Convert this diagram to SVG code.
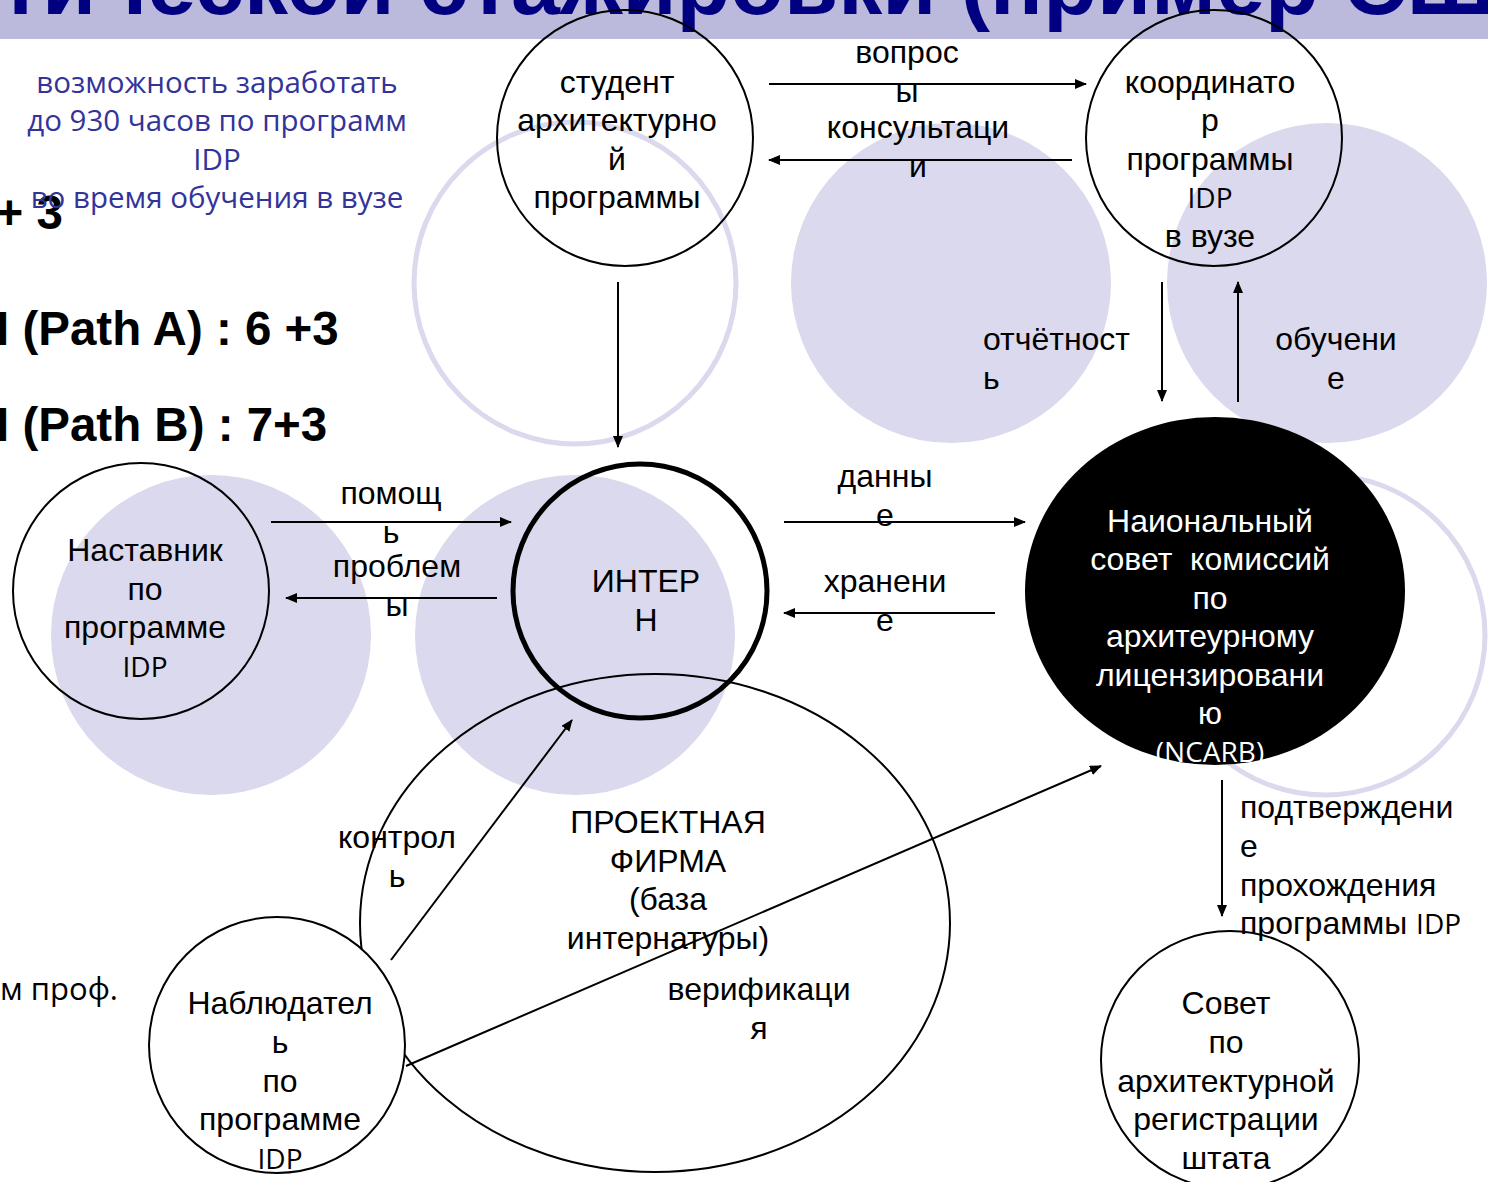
<svg xmlns="http://www.w3.org/2000/svg" width="1488" height="1182" viewBox="0 0 1488 1182">
<defs>
<marker id="ah" markerUnits="userSpaceOnUse" markerWidth="12" markerHeight="10" refX="11" refY="5" orient="auto">
<path d="M0,0 L12,5 L0,10 z" fill="#000"/>
</marker>
<style>
.bg{fill:#DAD9ED;stroke:none}
.ring{fill:none;stroke:#DAD9ED;stroke-width:5}
.node{fill:none;stroke:#000;stroke-width:2}
.t{font-family:"Liberation Sans",Arial,sans-serif;font-size:32px;fill:#000;text-anchor:middle}
.ts{font-family:"Liberation Sans",Arial,sans-serif;font-size:32px;fill:#000}
.c{font-family:"Open Sans","Noto Sans",sans-serif;font-size:28px}
.w{fill:#fff}
.blue{font-family:"Open Sans","Noto Sans",sans-serif;font-size:29.5px;fill:#333399;text-anchor:middle}
.big{font-family:"Liberation Sans",Arial,sans-serif;font-size:47.5px;font-weight:bold;fill:#000}
.conn line{stroke:#000;stroke-width:2;marker-end:url(#ah)}
</style>
</defs>
<rect width="1488" height="1182" fill="#fff"/>
<rect x="0" y="0" width="1488" height="39" fill="#BBBADC"/>
<text x="-201" y="14" font-family="Liberation Sans,Arial,sans-serif" font-size="88" font-weight="bold" fill="#000080">практической стажировки (пример США)</text>

<g id="decor">
<circle class="bg" cx="211" cy="635" r="160"/>
<circle class="bg" cx="575" cy="635" r="160"/>
<circle class="bg" cx="951" cy="283" r="160"/>
<circle class="bg" cx="1327" cy="283" r="160"/>
<circle class="ring" cx="575" cy="283" r="161"/>
<circle class="ring" cx="1325" cy="635" r="160"/>
</g>

<g id="left-text">
<text class="blue" x="217" y="93">возможность заработать</text>
<text class="blue" x="217" y="131">до 930 часов по программ</text>
<text class="blue" x="217" y="170">IDP</text>
<text class="big" x="-4.5" y="229">+ 3</text>
<text class="blue" x="217" y="208">во время обучения в вузе</text>
<text class="big" x="-4" y="345">I (Path A) : 6 +3</text>
<text class="big" x="-4" y="441">I (Path B) : 7+3</text>
<text x="0" y="1000" font-family="Open Sans,Noto Sans,sans-serif" font-size="31" fill="#000">м проф.</text>
</g>

<g id="node-student">
<circle class="node" cx="625" cy="138" r="128"/>
<text class="t" x="617" y="93">студент</text>
<text class="t" x="617" y="131">архитектурно</text>
<text class="t" x="617" y="170">й</text>
<text class="t" x="617" y="208">программы</text>
</g>

<g id="node-coordinator">
<circle class="node" cx="1214" cy="138" r="128"/>
<text class="t" x="1210" y="93">координато</text>
<text class="t" x="1210" y="131">р</text>
<text class="t" x="1210" y="170">программы</text>
<text class="t c" x="1210" y="208">IDP</text>
<text class="t" x="1210" y="247">в вузе</text>
</g>

<g id="node-mentor">
<circle class="node" cx="141" cy="591" r="128"/>
<text class="t" x="145" y="561">Наставник</text>
<text class="t" x="145" y="600">по</text>
<text class="t" x="145" y="638">программе</text>
<text class="t c" x="145" y="677">IDP</text>
</g>

<g id="node-intern">
<circle cx="640" cy="591" r="127" fill="none" stroke="#000" stroke-width="5"/>
<text class="t" x="646" y="592">ИНТЕР</text>
<text class="t" x="646" y="631">Н</text>
</g>

<g id="node-ncarb">
<ellipse cx="1215" cy="591" rx="190" ry="174" fill="#000"/>
<text class="t w" x="1210" y="532">Наиональный</text>
<text class="t w" x="1210" y="570" xml:space="preserve">совет  комиссий</text>
<text class="t w" x="1210" y="609">по</text>
<text class="t w" x="1210" y="647">архитеурному</text>
<text class="t w" x="1210" y="686">лицензировани</text>
<text class="t w" x="1210" y="724">ю</text>
<text class="t c w" x="1210" y="762">(NCARB)</text>
</g>

<g id="node-firm">
<ellipse class="node" cx="655" cy="923" rx="295" ry="249"/>
<text class="t" x="668" y="833">ПРОЕКТНАЯ</text>
<text class="t" x="668" y="872">ФИРМА</text>
<text class="t" x="668" y="910">(база</text>
<text class="t" x="668" y="949">интернатуры)</text>
</g>

<g id="node-observer">
<circle cx="277" cy="1045" r="128" fill="#fff" stroke="#000" stroke-width="2"/>
<text class="t" x="280" y="1014">Наблюдател</text>
<text class="t" x="280" y="1053">ь</text>
<text class="t" x="280" y="1092">по</text>
<text class="t" x="280" y="1130">программе</text>
<text class="t c" x="280" y="1169">IDP</text>
</g>

<g id="node-board">
<circle class="node" cx="1230" cy="1060" r="129"/>
<text class="t" x="1226" y="1014">Совет</text>
<text class="t" x="1226" y="1053">по</text>
<text class="t" x="1226" y="1092">архитектурной</text>
<text class="t" x="1226" y="1130">регистрации</text>
<text class="t" x="1226" y="1169">штата</text>
</g>

<g id="connectors" class="conn">
<line x1="769" y1="84" x2="1086" y2="84"/>
<line x1="1072" y1="160" x2="769" y2="160"/>
<line x1="618" y1="282" x2="618" y2="447"/>
<line x1="1162" y1="282" x2="1162" y2="401"/>
<line x1="1238" y1="402" x2="1238" y2="282"/>
<line x1="271" y1="522" x2="511" y2="522"/>
<line x1="497" y1="598" x2="286" y2="598"/>
<line x1="784" y1="522" x2="1025" y2="522"/>
<line x1="995" y1="613" x2="784" y2="613"/>
<line x1="391" y1="960" x2="572" y2="720"/>
<line x1="406" y1="1066" x2="1101" y2="766"/>
<line x1="1222" y1="780" x2="1222" y2="916"/>
</g>

<g id="labels">
<text class="t" x="907" y="63">вопрос</text>
<text class="t" x="907" y="102">ы</text>
<text class="t" x="918" y="138">консультаци</text>
<text class="t" x="918" y="177">и</text>
<text class="ts" x="983" y="350">отчётност</text>
<text class="ts" x="983" y="389">ь</text>
<text class="t" x="1336" y="350">обучени</text>
<text class="t" x="1336" y="389">е</text>
<text class="t" x="391" y="504">помощ</text>
<text class="t" x="391" y="543">ь</text>
<text class="t" x="397" y="577">проблем</text>
<text class="t" x="397" y="616">ы</text>
<text class="t" x="885" y="487">данны</text>
<text class="t" x="885" y="526">е</text>
<text class="t" x="885" y="592">хранени</text>
<text class="t" x="885" y="631">е</text>
<text class="t" x="397" y="848">контрол</text>
<text class="t" x="397" y="887">ь</text>
<text class="t" x="759" y="1000">верификаци</text>
<text class="t" x="759" y="1039">я</text>
<text class="ts" x="1240" y="818">подтверждени</text>
<text class="ts" x="1240" y="857">е</text>
<text class="ts" x="1240" y="896">прохождения</text>
<text class="ts" x="1240" y="934">программы <tspan class="c">IDP</tspan></text>
</g>
</svg>
